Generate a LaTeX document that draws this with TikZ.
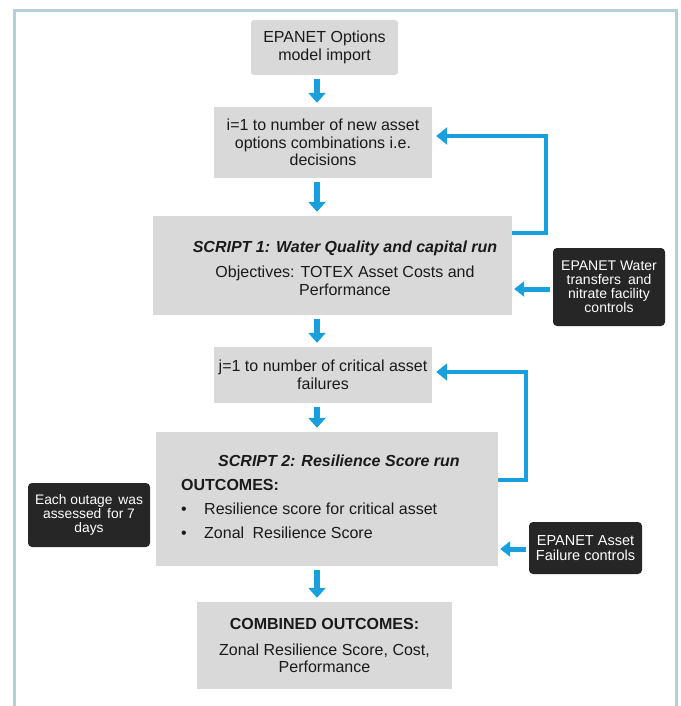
\documentclass[tikz,border=0pt]{standalone}
\usepackage{fontspec}
\setmainfont{Liberation Sans}
\usetikzlibrary{arrows.meta}
\definecolor{flowblue}{HTML}{17A0DC}
\definecolor{boxgray}{HTML}{D9D9D9}
\definecolor{darkbox}{HTML}{262626}
\definecolor{framec}{HTML}{B5D0D5}
\definecolor{txt}{HTML}{1A1A1A}
\begin{document}
\begin{tikzpicture}[x=1pt,y=-1pt,
  graybox/.style={fill=boxgray, inner sep=0pt, align=center, text=txt,
    font=\fontsize{16}{17.5}\selectfont},
  boxtext/.style={inner sep=0pt, align=center, text=txt, font=\fontsize{16}{17.5}\selectfont},
  darknote/.style={fill=darkbox, rounded corners=4pt, inner sep=0pt, align=center,
    text=white, font=\fontsize{14}{14}\selectfont},
  flow/.style={line width=5.5pt, draw=flowblue, shorten <=4pt, shorten >=4pt,
    -{Triangle[width=17pt,length=10pt]}},
  fback/.style={line width=4.5pt, draw=flowblue, line join=miter, shorten >=4pt,
    -{Triangle[width=17pt,length=11pt]}},
  side/.style={line width=5pt, draw=flowblue, shorten <=3pt, shorten >=2pt,
    -{Triangle[width=15pt,length=10pt]}},
]
\useasboundingbox (0,0) rectangle (680,706);
% frame
\draw[framec, line width=3pt] (14,706) -- (14,11) -- (676,11) -- (676,706);

% main boxes
\node[graybox, rounded corners=3pt, minimum width=147, minimum height=55] (b1) at (324.5,47.5)
  {EPANET Options\\model import};
\node[graybox, minimum width=218, minimum height=71] (b2) at (323,142.5)
  {i=1 to number of new asset\\options combinations i.e.\\decisions};
\node[graybox, minimum width=359, minimum height=99] (b3) at (332.5,265.5) {};
\node[boxtext] (t3) at (345,268)
  {\textbf{\textit{SCRIPT 1: Water Quality and capital run}}\\[8pt]
   Objectives: TOTEX Asset Costs and\\Performance};
\node[graybox, minimum width=218, minimum height=56] (b4) at (323,375)
  {j=1 to number of critical asset\\failures};
\node[graybox, minimum width=342, minimum height=134] (b5) at (327,499) {};
\node[boxtext, anchor=base] (t5a) at (339,466) {\textbf{\textit{SCRIPT 2: Resilience Score run}}};
\node[boxtext, anchor=base west] (t5b) at (181,490) {\textbf{OUTCOMES:}};
\node[boxtext, anchor=base west] (t5c) at (181,514) {•};
\node[boxtext, anchor=base west] (t5d) at (204,514) {Resilience score for critical asset};
\node[boxtext, anchor=base west] (t5e) at (181,538) {•};
\node[boxtext, anchor=base west] (t5f) at (204,538) {Zonal\hspace{4pt} Resilience Score};
\node[graybox, minimum width=255, minimum height=87] (b6) at (324.5,645.5)
  {\textbf{COMBINED OUTCOMES:}\\[8pt]Zonal Resilience Score, Cost,\\Performance};

% dark notes
\node[darknote, minimum width=112, minimum height=78] (d1) at (609,287)
  {EPANET Water\\transfers\hspace{3pt} and\\nitrate facility\\controls};
\node[darknote, font=\fontsize{13.8}{14}\selectfont, minimum width=122, minimum height=64] (d2) at (89,515)
  {Each outage\hspace{2pt} was\\assessed\hspace{2pt} for 7\\days};
\node[darknote, font=\fontsize{14.5}{15}\selectfont, minimum width=113, minimum height=52] (d3) at (585.5,548)
  {EPANET Asset\\Failure controls};

% helper coordinates
\coordinate (ax) at (317,0);
\coordinate (y1) at (0,233);
\coordinate (y2) at (0,136);
\coordinate (x1) at (546,0);
\coordinate (y3) at (0,480);
\coordinate (y4) at (0,372);
\coordinate (x2) at (526,0);
\coordinate (p1) at (0,289);
\coordinate (p2) at (0,549);

% vertical flow arrows
\draw[flow] (b1.south -| ax) -- (b2.north -| ax);
\draw[flow] (b2.south -| ax) -- (b3.north -| ax);
\draw[flow] (b3.south -| ax) -- (b4.north -| ax);
\draw[flow] (b4.south -| ax) -- (b5.north -| ax);
\draw[flow] (b5.south -| ax) -- (b6.north -| ax);

% feedback loops
\draw[fback] (b3.east |- y1) -- (x1 |- y1) -- (x1 |- y2) -- (b2.east |- y2);
\draw[fback] (b5.east |- y3) -- (x2 |- y3) -- (x2 |- y4) -- (b4.east |- y4);

% side inputs
\draw[side] (d1.west |- p1) -- (b3.east |- p1);
\draw[side] (d3.west |- p2) -- (b5.east |- p2);
\end{tikzpicture}
\end{document}
